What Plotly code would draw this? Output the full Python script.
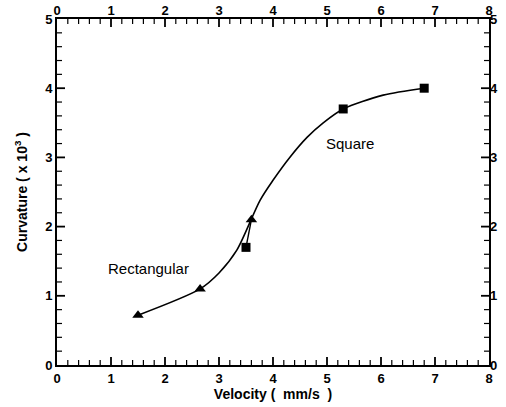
import plotly.graph_objects as go

# Measured points
rect_x = [1.5, 2.65, 3.6]
rect_y = [0.72, 1.1, 2.1]
square_x = [3.5, 5.3, 6.8]
square_y = [1.7, 3.7, 4.0]

# Fitted curve
curve_x = [1.5, 2.65, 3.0, 3.33, 3.76, 4.0, 4.31, 4.63, 4.93, 5.3, 6.04, 6.8]
curve_y = [0.72, 1.1, 1.33, 1.66, 2.38, 2.67, 3.0, 3.29, 3.5, 3.7, 3.9, 4.0]

# Short link between square and triangle
link_x = [3.5, 3.6]
link_y = [1.7, 2.1]

x_range = [0, 8]
y_range = [0, 5]
minor_step = 0.2

W, H = 506, 407
M = dict(l=57, r=17, t=19, b=42)
FONT = "Liberation Sans"

# pixel -> data conversion for tick lengths
px_x = (x_range[1] - x_range[0]) / (W - M["l"] - M["r"])
px_y = (y_range[1] - y_range[0]) / (H - M["t"] - M["b"])

fig = go.Figure()

# tick marks on all four sides, drawn as line traces (styling only)
def tick_paths(major):
    xs, ys = [], []
    nx = int(round((x_range[1] - x_range[0]) / minor_step))
    for i in range(1, nx):
        if (i % 5 == 0) != major:
            continue
        v = x_range[0] + i * minor_step
        ln = (8 if major else 5) * px_y
        xs += [v, v, None, v, v, None]
        ys += [y_range[0], y_range[0] + ln, None, y_range[1], y_range[1] - ln, None]
    ny = int(round((y_range[1] - y_range[0]) / minor_step))
    for i in range(1, ny):
        if (i % 5 == 0) != major:
            continue
        v = y_range[0] + i * minor_step
        ln = (8 if major else 5) * px_x
        xs += [x_range[0], x_range[0] + ln, None, x_range[1], x_range[1] - ln, None]
        ys += [v, v, None, v, v, None]
    return xs, ys

for major, w in ((False, 1.2), (True, 1.8)):
    tx, ty = tick_paths(major)
    fig.add_trace(go.Scatter(x=tx, y=ty, mode="lines", line=dict(color="black", width=w),
                             showlegend=False, hoverinfo="skip", connectgaps=False))

fig.add_trace(go.Scatter(x=curve_x, y=curve_y, mode="lines",
                         line=dict(color="black", width=1.6, shape="spline", smoothing=0.8),
                         showlegend=False, hoverinfo="skip"))
fig.add_trace(go.Scatter(x=link_x, y=link_y, mode="lines",
                         line=dict(color="black", width=1.4), showlegend=False))
fig.add_trace(go.Scatter(x=rect_x, y=rect_y, mode="markers",
                         marker=dict(symbol="triangle-up", size=10, color="black"),
                         showlegend=False))
fig.add_trace(go.Scatter(x=square_x, y=square_y, mode="markers",
                         marker=dict(symbol="square", size=9, color="black"),
                         showlegend=False))
# keep the secondary axes alive with an invisible trace
fig.add_trace(go.Scatter(x=[4], y=[2.5], xaxis="x2", yaxis="y2", mode="markers",
                         marker=dict(opacity=0, size=1), showlegend=False, hoverinfo="skip"))

tickfont = dict(family=FONT, size=13, color="#000000", weight="bold")
titlefont = dict(family=FONT, size=14, color="#000000", weight="bold")
axis_common = dict(showgrid=False, zeroline=False, tickmode="linear", tick0=0, dtick=1,
                   ticks="", tickfont=tickfont, automargin=False)

fig.update_layout(
    width=W, height=H,
    margin=M,
    plot_bgcolor="white", paper_bgcolor="white",
    xaxis=dict(range=x_range, showline=True, linecolor="black", linewidth=2, mirror=True,
               title=dict(text="Velocity (  mm/s  )", font=titlefont, standoff=2),
               **axis_common),
    yaxis=dict(range=y_range, showline=True, linecolor="black", linewidth=2, mirror=True,
               title=dict(text="Curvature ( x 10<sup>3</sup> )", font=titlefont, standoff=14),
               **axis_common),
    xaxis2=dict(range=x_range, overlaying="x", side="top", showline=False, anchor="y",
                **axis_common),
    yaxis2=dict(range=y_range, overlaying="y", side="right", showline=False, anchor="x",
                **axis_common),
    annotations=[
        dict(x=1.69, y=1.4, xref="x", yref="y", text="Rectangular", showarrow=False,
             font=dict(family=FONT, size=15, color="black")),
        dict(x=5.43, y=3.2, xref="x", yref="y", text="Square", showarrow=False,
             font=dict(family=FONT, size=15, color="black")),
    ],
)

fig.write_html("out.html", config={"displayModeBar": False},
               post_script="document.body.style.margin='0';document.body.style.padding='0';")
